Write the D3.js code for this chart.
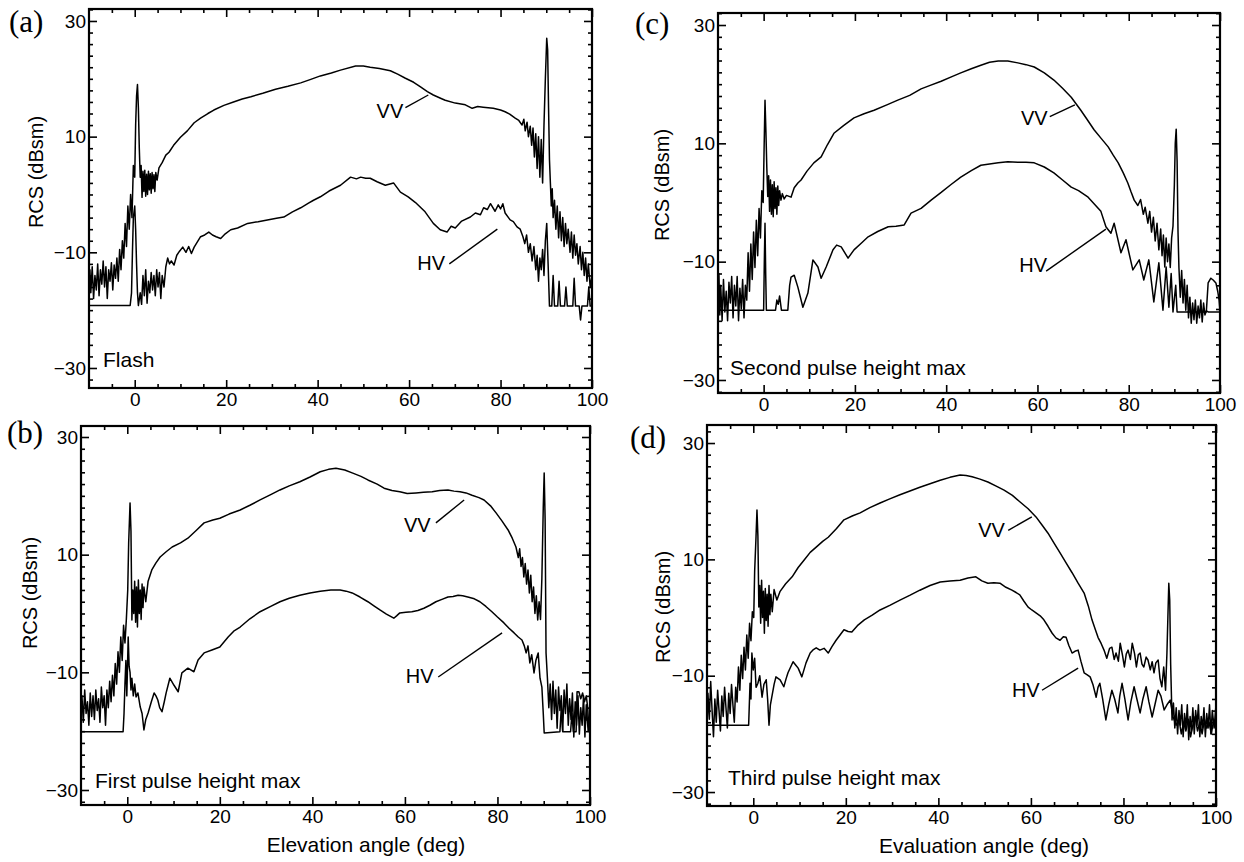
<!DOCTYPE html>
<html><head><meta charset="utf-8">
<script src="https://cdn.jsdelivr.net/npm/d3@7"></script>
<style>body{margin:0;background:#fff}svg{display:block}</style>
</head><body>
<svg id="chart" width="1244" height="862"></svg>
<script>
// ---------------- DATA (angle in deg, RCS in dBsm) ----------------
const xTickValues = [0, 20, 40, 60, 80, 100];
const yTickValues = [-30, -10, 10, 30];
const panelLetters = ["(a)", "(b)", "(c)", "(d)"];
const insetLabels = ["Flash", "First pulse height max", "Second pulse height max", "Third pulse height max"];
const xTitles = ["", "Elevation angle (deg)", "", "Evaluation angle (deg)"];
const yTitle = "RCS (dBsm)";
const seriesNames = ["VV", "HV"];

const vvA = [[-10,-19],[-9.8,-13],[-9.6,-17],[-9.3,-12.5],[-9,-18],[-8.7,-14],[-8.4,-16.5],[-8.1,-12],[-7.8,-17.5],[-7.5,-13],[-7.2,-15.5],[-6.9,-11.5],[-6.6,-16],[-6.3,-12.5],[-6,-18],[-5.7,-13],[-5.4,-15],[-5.1,-11.8],[-4.8,-16.5],[-4.5,-12.2],[-4.2,-14.5],[-3.9,-11],[-3.6,-15],[-3.3,-9.5],[-3,-13],[-2.7,-8],[-2.4,-11],[-2.1,-5],[-1.8,-9],[-1.5,-2],[-1.2,-6],[-0.9,0],[-0.6,-4],[-0.3,5],[0,3],[0.2,12],[0.4,17],[0.6,19],[0.8,15],[1.0,8],[1.2,3],[1.4,5],[1.6,-0.5],[1.8,4],[2.0,0.5],[2.2,4.2],[2.4,-0.3],[2.6,3.5],[2.8,0],[3.0,4],[3.2,0.8],[3.4,3.6],[3.6,0.2],[3.8,3.8],[4.0,1],[4.2,3.4],[4.4,0.5],[4.6,3.8],[4.9,2.5],[5.3,4.6],[6,5.5],[6.8,6.8],[7.5,7.3],[8.5,8.5],[10,9.9],[11.5,11],[13,12.4],[14.4,13.2],[16,14],[17.3,14.6],[19.5,15.4],[21.6,16],[23.5,16.5],[25.4,16.9],[28,17.5],[30.8,18.2],[33.5,18.7],[36.3,19.3],[38.5,19.9],[40.6,20.5],[43,21],[45,21.5],[48.3,22.2],[50,22.2],[51.5,22],[53.5,21.8],[55.9,21.4],[57.5,20.8],[59.2,20.1],[61,19.4],[62.5,18.6],[64,17.8],[65.3,17.2],[67,16.6],[67.9,16.3],[70.1,15.8],[72.3,15.5],[73.8,14.9],[75,15.2],[76.2,15.1],[78.4,14.9],[80,14.6],[81,14.3],[82,13.9],[83.2,13.2],[84,12.8],[84.7,12],[85.1,13],[85.4,11],[85.8,12.5],[86.1,10],[86.5,11.8],[86.8,8.5],[87.1,11.5],[87.4,6.5],[87.7,10.5],[88,4.5],[88.3,10],[88.6,3],[88.9,9.5],[89.2,2],[89.5,12],[89.8,20],[90.1,27],[90.3,25],[90.5,15],[90.7,6],[90.9,2],[91.1,-2],[91.3,1],[91.5,-4],[91.8,-1],[92.1,-6],[92.4,-2],[92.7,-7.5],[93,-3],[93.3,-8],[93.6,-4],[93.9,-9],[94.2,-5],[94.5,-8.5],[94.8,-6],[95.2,-10],[95.5,-6.5],[95.8,-11],[96.1,-7],[96.4,-10.5],[96.7,-8.5],[97,-12],[97.4,-9],[97.7,-13],[98,-10],[98.3,-14],[98.6,-11],[98.9,-15],[99.2,-12],[99.6,-16],[100,-14]];

const hvA = [[-10,-19.2],[-1,-19.2],[-0.7,-17],[-0.5,-10],[-0.3,-4],[0,-2],[0.2,-6],[0.4,-12],[0.6,-17],[0.8,-19.2],[1.2,-17],[1.5,-19],[1.8,-14],[2.1,-17.5],[2.4,-13],[2.7,-18.8],[3,-15],[3.3,-17],[3.6,-13.5],[3.9,-16.5],[4.2,-14],[4.5,-17.5],[4.8,-13],[5.1,-16],[5.4,-13.5],[5.7,-18],[6,-14],[6.4,-16],[6.8,-12.5],[7.2,-11],[7.6,-12],[8,-11.5],[8.6,-12.2],[9.2,-10.5],[9.8,-9.8],[10.5,-9.1],[11.2,-10],[11.8,-9],[12.4,-10.2],[13,-9.1],[13.7,-8.2],[14.4,-7.3],[15.3,-7],[16.2,-6.5],[17,-7],[17.8,-7.3],[18.8,-7.6],[19.8,-6.8],[21,-6.1],[22.5,-5.8],[24.7,-5],[27,-4.7],[29,-4.4],[31,-4.1],[32.6,-3.9],[34.5,-3],[36.3,-2.3],[38,-1.5],[39.1,-1],[40.6,-0.4],[42.5,0.6],[45,1.6],[47.2,3],[48.5,2.7],[49.4,3],[50.5,2.8],[51.5,2.8],[53,2.2],[54.8,1.6],[56.6,2],[58.1,0.4],[59.8,-0.4],[61.4,-1.4],[63.5,-3],[65.3,-5],[66.8,-6.1],[68.3,-6.5],[69.2,-5.5],[70.1,-5.8],[71.5,-4.6],[73.4,-3.9],[74.5,-3.2],[75.6,-3.5],[76.3,-2.3],[77.1,-2.6],[77.8,-1.6],[78.8,-2.9],[79.5,-1.8],[80,-2.5],[80.5,-1.6],[81,-3.2],[82.1,-4.4],[82.8,-4.7],[83.6,-5.6],[84.3,-6],[84.9,-7.3],[85.3,-8.5],[85.7,-7],[86.1,-10],[86.5,-8.5],[86.9,-11.5],[87.3,-9],[87.7,-13],[88,-10.5],[88.3,-15],[88.6,-11],[88.9,-13],[89.2,-9.5],[89.5,-14],[89.8,-8],[90.1,-5],[90.4,-12],[90.7,-19.3],[91.2,-19.3],[91.5,-14],[91.8,-19.3],[92.5,-19.3],[92.8,-15],[93.1,-19.3],[94,-19.3],[94.3,-16],[94.6,-19.3],[95.8,-19.3],[96.1,-14.5],[96.4,-19.3],[97.2,-19.3],[97.5,-21.7],[97.8,-19.3],[99,-19.3],[99.3,-16],[99.6,-19.3],[100,-19.3]];

const vvB = [[-10,-16],[-9.8,-14],[-9.5,-18.5],[-9.2,-13],[-8.9,-17],[-8.6,-15],[-8.3,-19],[-8,-13.5],[-7.7,-17.5],[-7.4,-14],[-7.1,-18],[-6.8,-13],[-6.5,-16.5],[-6.2,-14.5],[-5.9,-18.5],[-5.6,-12.5],[-5.3,-16],[-5,-14],[-4.7,-19],[-4.4,-13],[-4.1,-16],[-3.8,-11.5],[-3.5,-15],[-3.2,-10.5],[-2.9,-14],[-2.6,-8.5],[-2.3,-12],[-2,-6.5],[-1.7,-10],[-1.4,-4],[-1.1,-8],[-0.8,-2],[-0.5,-5],[-0.2,-1],[0.1,4],[0.3,12],[0.6,18.8],[0.8,14],[1.0,-1.1],[1.2,4],[1.4,0],[1.6,5.5],[1.8,-1.5],[2,4.5],[2.2,-2.3],[2.4,5.7],[2.6,0],[2.8,4],[3,-1],[3.2,5],[3.4,1],[3.6,4.5],[4,2],[4.5,5.5],[5.3,7.4],[6.2,8.6],[7.1,9.6],[8.4,10.5],[9.7,11.3],[11.5,12],[13.1,12.8],[15,14.2],[16.6,15.4],[18.5,15.9],[20,16.2],[22,16.9],[24.4,17.6],[26.5,18.4],[28.7,19.3],[31,20.2],[33,21],[35,21.7],[37.3,22.4],[39.5,23.2],[41.7,24.1],[43.5,24.5],[45.1,24.7],[47,24.4],[48.6,23.9],[50.5,23.3],[52,22.7],[54,22],[55.5,21.3],[57.2,20.9],[58.9,20.7],[60.5,20.4],[62.4,20.5],[64,20.6],[65.9,20.7],[67.5,20.9],[69.3,21],[70.6,20.8],[71.9,20.7],[73.2,20.5],[74.5,20.1],[76,19.7],[77.1,19.3],[78.5,18.3],[79.7,17.1],[81,15.7],[82.3,14.2],[83.2,12.8],[84,11.3],[84.5,9.5],[84.8,11],[85.1,8],[85.4,9.5],[85.7,6.2],[86,8.5],[86.3,5],[86.6,7.4],[86.9,3.5],[87.2,6.5],[87.5,2],[87.8,4.5],[88.1,0],[88.4,3],[88.7,-1.1],[89,2],[89.3,-1],[89.6,6],[89.9,18],[90.1,23.9],[90.3,16],[90.5,-6.7],[90.8,-11],[91.1,-16],[91.4,-12],[91.7,-18],[92,-11.5],[92.3,-17],[92.6,-13],[92.9,-19.5],[93.2,-12.5],[93.5,-16.5],[93.8,-14],[94.1,-20],[94.4,-13],[94.7,-17],[95,-12],[95.3,-19],[95.6,-14.5],[95.9,-18],[96.2,-13.5],[96.5,-21],[96.8,-15],[97.1,-19],[97.4,-14],[97.7,-20.5],[98,-16],[98.3,-19],[98.6,-14],[98.9,-21],[99.2,-15.5],[99.6,-20],[100,-17]];

const hvB = [[-10,-20.1],[-0.9,-20.1],[-0.7,-17],[-0.5,-12],[-0.3,-8],[-0.1,-14],[0.2,-4],[0.4,-9],[0.6,-10],[0.8,-13],[1,-11],[1.3,-14],[1.6,-12],[1.9,-14.2],[2.3,-13.5],[2.8,-15.9],[3.2,-17],[3.6,-19.8],[4,-18],[4.5,-16.9],[5.2,-15],[5.8,-13.5],[6.2,-14],[6.6,-14.7],[7,-16],[7.5,-16.7],[8,-15],[8.4,-13.5],[9.2,-11],[10.1,-12.2],[11,-13.3],[11.8,-10.1],[13.1,-9.3],[14.4,-9.9],[15.3,-7.9],[16.6,-6.7],[18.3,-6.2],[20,-5.7],[21.8,-4],[23,-3],[24.4,-2.3],[26.5,-0.9],[28.7,0.3],[31,1.2],[33,2],[35,2.6],[37.3,3.1],[39.5,3.5],[41.7,3.8],[44,4],[46,4],[47.3,3.8],[48.6,3.5],[50.3,2.8],[52,2],[53.3,1.3],[54.6,0.6],[56,-0.1],[57.6,-0.8],[58.2,-0.4],[58.9,0.1],[60.2,0.2],[61.5,0.3],[62.8,0.5],[64.1,0.9],[65.4,1.4],[66.7,2],[68,2.4],[69.3,2.8],[70.4,2.9],[71.5,3.1],[72.5,3],[73.6,2.8],[75,2.5],[76.2,2],[77.5,1.2],[78.8,0.3],[80,-0.6],[81.4,-1.6],[82.5,-2.5],[83.6,-3.3],[84.5,-4],[85.3,-4.5],[85.8,-5.5],[86.2,-6.7],[86.6,-5.5],[87,-8.4],[87.4,-7],[87.9,-10.1],[88.3,-8],[88.8,-6.7],[89.2,-11],[89.6,-12.5],[89.9,-17],[90.1,-20.3],[93.5,-20.1],[93.8,-16],[94.1,-20.1],[95.8,-20.1],[96.1,-17],[96.4,-20.1],[97,-20.1],[97.2,-13.3],[97.6,-13.3],[98,-14.5],[98.4,-13.5],[98.8,-15],[99.2,-14],[99.5,-16],[99.8,-20.1],[100,-20.1]];

const vvC = [[-10,-18],[-9.8,-12],[-9.6,-19],[-9.4,-14],[-9.1,-20],[-8.8,-13],[-8.5,-18.5],[-8.2,-15],[-7.9,-20],[-7.6,-13.5],[-7.3,-17],[-7,-12.5],[-6.7,-19.5],[-6.4,-14],[-6.1,-17.5],[-5.8,-12.5],[-5.5,-20],[-5.2,-14.5],[-4.9,-18],[-4.6,-13],[-4.3,-19.5],[-4,-14],[-3.7,-16.5],[-3.4,-8.5],[-3.1,-15],[-2.8,-7],[-2.5,-13],[-2.2,-5],[-1.9,-11],[-1.6,-3],[-1.3,-9],[-1,-1],[-0.7,-6],[-0.4,2],[-0.1,0],[0.1,9],[0.3,17.3],[0.5,12],[0.7,5.8],[0.9,1],[1.1,4.5],[1.3,-1.5],[1.5,3.8],[1.7,-2],[1.9,3],[2.1,-2.4],[2.3,3.5],[2.5,-1],[2.7,2.5],[2.9,-2],[3.1,2.8],[3.3,-0.5],[3.5,2],[3.8,0.4],[4.1,1.5],[4.5,0.6],[5,1.2],[6,0.9],[6.7,2.5],[7.5,3.3],[8.2,3.8],[9.5,5.3],[11,6.7],[12.6,7.7],[14,9.8],[15.4,11.7],[17.5,13],[19.8,14.3],[22,15],[24.2,15.6],[27,16.5],[29.4,17.3],[32,18.1],[34.5,19.2],[36.5,19.8],[38.9,20.5],[41,21.2],[43.2,21.9],[45.5,22.6],[47.6,23.2],[49.5,23.7],[51.4,23.9],[53.5,23.9],[55.7,23.6],[57.5,23.3],[59.3,22.9],[61.5,21.9],[63.6,20.7],[65.5,19.3],[67.4,17.8],[69.5,15.6],[71,13.9],[72.4,12.3],[74,10.8],[75.5,9.4],[76.6,8],[77.7,6.7],[78.8,5],[79.8,3.3],[80.5,1.8],[81.2,0.4],[82,-0.5],[82.6,0.5],[83.2,-2],[83.6,-0.8],[84.2,-3.5],[84.6,-1.5],[85,-5],[85.4,-2.5],[85.8,-6.5],[86.2,-3.5],[86.6,-8],[87,-4.5],[87.3,-9],[87.6,-5.5],[87.9,-10.9],[88.2,-6],[88.5,-10],[88.8,-7],[89.1,-11],[89.4,-6],[89.7,-4],[90,3],[90.2,10],[90.4,12.4],[90.6,7],[90.8,-5],[91,-11],[91.3,-16],[91.6,-11.5],[91.9,-17],[92.2,-13],[92.5,-18.2],[92.8,-14],[93.1,-19.5],[93.4,-16],[93.7,-20.4],[94,-17],[94.3,-19.8],[94.6,-16.5],[94.9,-20.4],[95.2,-17.5],[95.5,-19.5],[95.8,-16.5],[96.1,-20.2],[96.4,-17],[96.7,-19],[97,-18.3],[97.4,-18.5],[100,-18.5]];

const hvC = [[-10,-18.2],[0,-18.2],[0.15,-10],[0.3,-3.5],[0.45,-12],[0.6,-18.2],[2.6,-18.2],[2.9,-16.5],[3.2,-17.2],[3.5,-15.8],[3.9,-18.2],[5.3,-18.2],[5.7,-14],[6,-12.6],[6.7,-12.3],[7.5,-14.3],[8.6,-17.7],[9.7,-15.3],[10.8,-9.7],[11.9,-10.9],[12.6,-12.8],[13.7,-10.9],[15.2,-8],[16,-7.2],[17,-7.5],[18.5,-9.4],[19.8,-8],[21.5,-6.8],[22.9,-5.8],[25,-4.9],[27.3,-4.1],[29,-4],[30.8,-3.8],[32.3,-1.8],[34.5,-1],[36.7,0.4],[38.9,1.7],[41,3],[43.2,4.3],[45.5,5.4],[47.6,6.3],[49.5,6.5],[51.4,6.7],[53.5,6.9],[55.7,6.8],[57.5,6.8],[59.3,6.7],[61.5,6],[63.6,5],[65.5,3.8],[67.4,2.6],[69,2],[71.1,0.9],[72.5,-0.3],[73.9,-1.5],[75,-4.1],[76.1,-5.2],[76.8,-3.5],[78.3,-8.5],[79.4,-6.3],[80.9,-11.4],[82.3,-9.7],[83.3,-13.1],[84.4,-9.7],[85.5,-16.8],[86.6,-10.2],[87.5,-18.2],[88.2,-10.9],[88.8,-17.7],[89.3,-12],[89.7,-18.5],[90.3,-14],[90.6,-18.5],[97,-18.5],[97.4,-13.6],[98,-12.8],[98.5,-13.1],[99.1,-13.6],[99.5,-15],[99.8,-16.5],[100,-18.5]];

const vvD = [[-10,-19],[-9.8,-13],[-9.5,-17.5],[-9.2,-11],[-8.9,-16],[-8.6,-20.5],[-8.3,-14],[-8,-18],[-7.7,-12.5],[-7.4,-16],[-7.1,-19.5],[-6.8,-13.5],[-6.5,-17],[-6.2,-12],[-5.9,-15.5],[-5.6,-19],[-5.3,-13],[-5,-16.5],[-4.7,-11.5],[-4.4,-15],[-4.1,-18],[-3.8,-12],[-3.5,-14.5],[-3.2,-8.5],[-2.9,-12.5],[-2.6,-6.5],[-2.3,-10.5],[-2,-5.1],[-1.7,-9],[-1.4,-3],[-1.1,-7],[-0.8,-1],[-0.5,-4],[-0.2,1],[0.1,0],[0.3,8],[0.6,14],[0.8,18.5],[1,14],[1.2,1.8],[1.4,5.5],[1.6,-1],[1.8,6.4],[2,0],[2.2,4.5],[2.4,-2.7],[2.6,5],[2.8,-0.5],[3,4],[3.2,-1.5],[3.4,5.5],[3.6,0.5],[3.8,4],[4.1,1],[4.5,4.8],[5.1,3],[5.8,4.5],[7,5.8],[8.4,7],[9.7,8.6],[11,9.9],[12.3,11.2],[13.6,12.1],[15,13.1],[16.2,13.8],[18,15.3],[19.6,16.8],[21.5,17.5],[23.1,18],[25.2,18.9],[27.4,19.7],[29.5,20.4],[31.7,21.1],[34,21.8],[36,22.4],[38.2,23],[40.4,23.6],[42.5,24.1],[44.7,24.5],[46,24.4],[47.3,24.2],[49,23.8],[50.7,23.3],[52.5,22.6],[54.2,21.9],[56,21],[57.6,19.9],[59.4,18.7],[61.1,17.3],[62.4,15.9],[63.7,14.5],[65,12.8],[66.3,11.1],[67.6,9.4],[68.9,7.7],[70.2,5.9],[71.5,4.2],[72.4,2],[73.2,-0.4],[73.9,-2],[74.5,-3.4],[75.2,-4.5],[75.8,-5.6],[76.4,-7],[77,-5.3],[77.5,-5.1],[78,-7.2],[78.4,-6.1],[78.9,-7.5],[79.3,-4.4],[79.8,-6.5],[80.2,-8.5],[80.6,-6.3],[81,-5.6],[81.5,-7.2],[81.9,-4.4],[82.4,-6.2],[82.8,-8.5],[83.2,-6.4],[83.6,-6.1],[84,-8],[84.4,-8.5],[84.9,-6.8],[85.3,-7.3],[85.8,-9],[86.2,-7.6],[86.6,-9.5],[87,-7.8],[87.5,-7.3],[87.9,-10.5],[88.3,-11.9],[88.7,-8.5],[89.1,-12.5],[89.4,-6],[89.6,0],[89.8,5.9],[90,3],[90.2,-8],[90.5,-17.6],[90.8,-14.7],[91.1,-19],[91.4,-15.5],[91.7,-20],[92,-16],[92.3,-18.5],[92.6,-15],[92.9,-20.5],[93.2,-16.5],[93.5,-19],[93.8,-15],[94.1,-21],[94.4,-17],[94.7,-19.5],[95,-15.5],[95.3,-20],[95.6,-16],[95.9,-18.5],[96.2,-15],[96.5,-20.5],[96.8,-17],[97.1,-19],[97.4,-15.5],[97.7,-20.5],[98,-16.5],[98.3,-19],[98.6,-15],[98.9,-20],[99.2,-16],[99.6,-19],[100,-15]];

const hvD = [[-10,-18.5],[-1,-18.5],[-0.7,-11.3],[-0.5,-14],[-0.3,-6.1],[0,-9],[0.3,-7],[0.6,-12],[1,-11.3],[1.4,-10],[1.9,-13.7],[2.3,-11.5],[2.8,-10.7],[3.1,-14],[3.4,-18.5],[3.7,-15],[4,-13.7],[4.5,-11.5],[4.9,-10.2],[5.8,-10.7],[6.6,-11.9],[7.1,-10.5],[7.5,-9.5],[8.6,-7.6],[9.2,-8.2],[9.7,-8.7],[10.5,-10.2],[11.4,-7.8],[12.3,-6.1],[13,-5.5],[13.6,-5.2],[14.4,-5.6],[15.3,-5.3],[16.2,-6.1],[17,-5],[17.9,-3.9],[19.6,-2.1],[20.5,-2.4],[21.3,-2.5],[22.5,-1.4],[24,-0.4],[25.7,0.4],[27.4,1.3],[29.5,2.1],[31.7,3],[33.8,3.8],[36,4.7],[38.2,5.5],[40.4,6.1],[42.5,6.3],[44.7,6.4],[46.4,6.8],[48.1,7],[49.4,6.3],[50.7,5.9],[52,6],[53.3,5.9],[54.6,5.2],[55.9,4.7],[56.8,4.3],[57.6,3.9],[58.5,2.8],[59.4,1.8],[60.2,1.3],[61.1,0.8],[62,0.3],[62.8,-0.4],[63.7,-1.5],[64.6,-2.7],[65.4,-3.5],[66.3,-3.9],[67,-3.3],[67.6,-3.4],[68.2,-4.8],[68.9,-6.1],[69.5,-5.8],[70.2,-5.6],[70.8,-7.5],[71.5,-9.5],[72.1,-9.8],[72.8,-10.2],[73.4,-11.5],[74.1,-13.7],[74.5,-12],[74.9,-11.3],[75.5,-14],[76.2,-17.6],[76.8,-15],[77.5,-12.5],[78.1,-14],[78.8,-16.4],[79.2,-13.5],[79.7,-11.3],[80.3,-14],[81,-17.6],[81.6,-14.5],[82.3,-11.9],[82.9,-14],[83.6,-16.4],[84.2,-14],[84.9,-11.9],[85.5,-14.5],[86.2,-17.1],[86.8,-15],[87.5,-12.5],[88.1,-13.5],[88.8,-15.9],[89.4,-15],[90.1,-14.2],[90.7,-17],[91.4,-18.5],[92,-17.5],[92.5,-20],[93,-18],[93.5,-19.5],[94,-17.5],[94.5,-20.5],[95,-18.5],[95.5,-17],[96,-19.5],[96.5,-18],[97,-20],[97.5,-17.5],[98,-19],[98.5,-18],[99,-20],[99.5,-17.5],[100,-18.5]];

// label anchor points in data units: [textAngle, textDb, lineFromAngle, lineFromDb, lineToAngle, lineToDb]
const vvLabelA = [52.9, 13.2, 59.2, 15.0, 64.2, 17.2];
const hvLabelA = [61.8, -13.1, 68.8, -12.0, 79.3, -6.0];
const vvLabelB = [59.8, 13.9, 66.7, 15.4, 72.8, 19.3];
const hvLabelB = [60.2, -11.8, 67.2, -10.8, 81.0, -3.3];
const vvLabelC = [56.4, 13.1, 62.7, 14.5, 68.2, 16.5];
const hvLabelC = [56.0, -11.7, 61.9, -11.6, 75.0, -4.5];
const vvLabelD = [48.6, 13.8, 55.1, 15.0, 60.2, 17.3];
const hvLabelD = [55.9, -13.7, 62.4, -12.5, 70.2, -8.7];

// ---------------- LAYOUT ----------------
const SANS = "'Liberation Sans', Arial, Helvetica, sans-serif";
const SERIF = "'Liberation Serif', 'Times New Roman', serif";
const panels = [
  {i:0, vv:vvA, hv:hvA, lv:vvLabelA, lh:hvLabelA, box:{l:89,r:592,t:9,b:388}, ydom:[-33.46,32.07], letter:[9,32], ylab:[36,172], inset:[103,367]},
  {i:1, vv:vvB, hv:hvB, lv:vvLabelB, lh:hvLabelB, box:{l:81,r:590,t:426,b:805}, ydom:[-32.55,31.87], letter:[7,443], ylab:[30,593], inset:[95,788], xt:[366,852]},
  {i:2, vv:vvC, hv:hvC, lv:vvLabelC, lh:hvLabelC, box:{l:718,r:1220,t:13,b:393}, ydom:[-32.2,32.03], letter:[635,34], ylab:[662,185], inset:[730,375]},
  {i:3, vv:vvD, hv:hvD, lv:vvLabelD, lh:hvLabelD, box:{l:707,r:1216,t:425,b:806}, ydom:[-32.4,33.1], letter:[630,448], ylab:[663,607], inset:[728,785], xt:[984,853]}
];

const svg = d3.select("#chart");
svg.append("rect").attr("width",1244).attr("height",862).attr("fill","#fff");

panels.forEach(p => {
  const {l,r,t,b} = p.box;
  const x = d3.scaleLinear().domain([-10,100]).range([l,r]);
  const y = d3.scaleLinear().domain(p.ydom).range([b,t]);
  const g = svg.append("g");

  const minorX = d3.range(-5,100,5).filter(v => !xTickValues.includes(v));
  const minorY = d3.range(-32,33,2).filter(v => !yTickValues.includes(v) && v>p.ydom[0] && v<p.ydom[1]);

  function axisGroup(axis, tr){
    const a = g.append("g").attr("transform",tr).call(axis);
    a.select(".domain").remove();
    a.selectAll(".tick line").attr("stroke","#000").attr("stroke-width",1.6);
    a.selectAll("text").attr("font-family",SANS).attr("font-size",19).attr("fill","#000");
    return a;
  }
  axisGroup(d3.axisBottom(x).tickValues(xTickValues).tickSize(-8).tickPadding(5).tickFormat(d3.format("d")), `translate(0,${b})`);
  axisGroup(d3.axisBottom(x).tickValues(minorX).tickSize(-4).tickFormat(""), `translate(0,${b})`);
  axisGroup(d3.axisTop(x).tickValues(xTickValues).tickSize(-8).tickFormat(""), `translate(0,${t})`);
  axisGroup(d3.axisTop(x).tickValues(minorX).tickSize(-4).tickFormat(""), `translate(0,${t})`);
  axisGroup(d3.axisLeft(y).tickValues(yTickValues).tickSize(-8).tickPadding(3), `translate(${l},0)`);
  axisGroup(d3.axisLeft(y).tickValues(minorY).tickSize(-4).tickFormat(""), `translate(${l},0)`);
  axisGroup(d3.axisRight(y).tickValues(yTickValues).tickSize(-8).tickFormat(""), `translate(${r},0)`);
  axisGroup(d3.axisRight(y).tickValues(minorY).tickSize(-4).tickFormat(""), `translate(${r},0)`);

  g.append("rect").attr("x",l).attr("y",t).attr("width",r-l).attr("height",b-t)
    .attr("fill","none").attr("stroke","#000").attr("stroke-width",2.2);

  const line = d3.line().x(d => x(d[0])).y(d => y(d[1]));
  [p.vv, p.hv].forEach(series => {
    g.append("path").datum(series).attr("d",line).attr("fill","none")
      .attr("stroke","#000").attr("stroke-width",1.5).attr("stroke-linejoin","round");
  });

  [[p.lv, seriesNames[0]],[p.lh, seriesNames[1]]].forEach(([a,name]) => {
    g.append("text").attr("x",x(a[0])).attr("y",y(a[1])).text(name)
      .attr("font-family",SANS).attr("font-size",20).attr("fill","#000");
    g.append("line").attr("x1",x(a[2])).attr("y1",y(a[3])).attr("x2",x(a[4])).attr("y2",y(a[5]))
      .attr("stroke","#000").attr("stroke-width",1.4);
  });

  g.append("text").attr("x",p.inset[0]).attr("y",p.inset[1]).text(insetLabels[p.i])
    .attr("font-family",SANS).attr("font-size",21).attr("fill","#000");

  svg.append("text").attr("x",p.letter[0]).attr("y",p.letter[1]).text(panelLetters[p.i])
    .attr("font-family",SERIF).attr("font-size",31).attr("fill","#000");

  svg.append("text").attr("transform",`translate(${p.ylab[0]},${p.ylab[1]}) rotate(-90)`)
    .attr("text-anchor","middle").attr("dy","0.35em").text(yTitle)
    .attr("font-family",SANS).attr("font-size",20).attr("fill","#000");

  if (p.xt && xTitles[p.i]) {
    svg.append("text").attr("x",p.xt[0]).attr("y",p.xt[1]).attr("text-anchor","middle")
      .text(xTitles[p.i]).attr("font-family",SANS).attr("font-size",21).attr("fill","#000");
  }
});
</script>
</body></html>
